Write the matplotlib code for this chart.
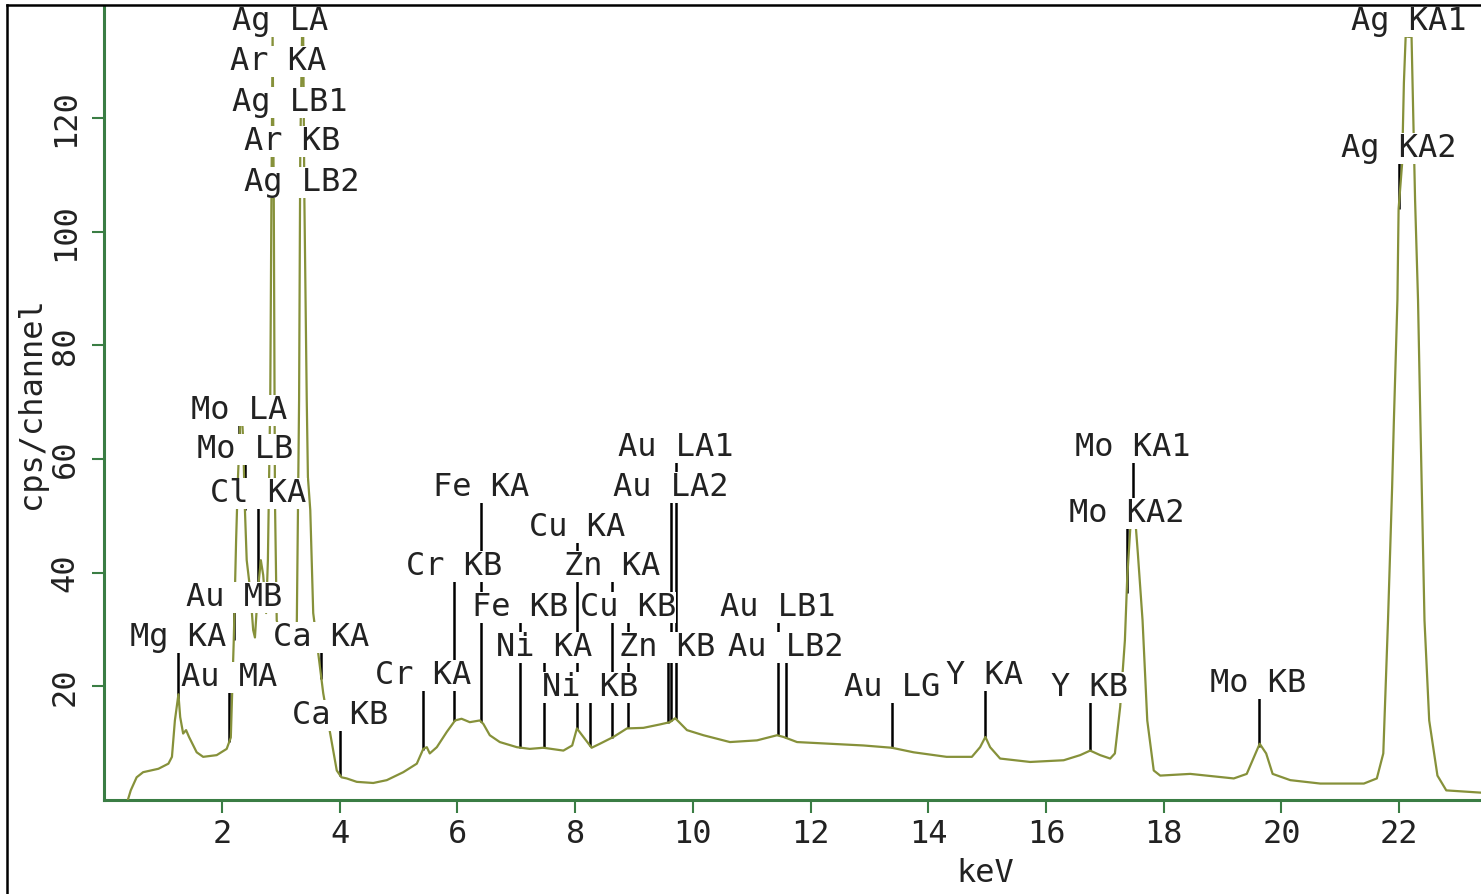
import numpy as np
import matplotlib
matplotlib.use('Agg')
import matplotlib.pyplot as plt
from matplotlib.lines import Line2D

# EDS spectrum trace: energy (keV) and intensity (cps/channel)
energy = [0.40, 0.45, 0.55, 0.66, 0.92, 1.09, 1.15, 1.20, 1.26, 1.29, 1.34, 1.39, 1.44, 1.57, 1.68,
          1.91, 2.08, 2.15, 2.20, 2.24, 2.27, 2.31, 2.33, 2.36, 2.39, 2.42, 2.48, 2.53, 2.56, 2.61,
          2.66, 2.70, 2.75, 2.78, 2.82, 2.84, 2.86, 2.88, 2.90, 2.93, 3.02, 3.19, 3.27, 3.31, 3.33,
          3.36, 3.38, 3.40, 3.44, 3.46, 3.50, 3.55, 3.63, 3.72, 3.83, 3.95, 4.03, 4.12, 4.29, 4.57,
          4.80, 5.08, 5.31, 5.42, 5.48, 5.53, 5.65, 5.82, 5.96, 6.07, 6.21, 6.38, 6.44, 6.55, 6.72,
          7.01, 7.23, 7.46, 7.80, 7.95, 8.03, 8.14, 8.28, 8.42, 8.65, 8.88, 9.16, 9.44, 9.61, 9.70,
          9.90, 10.18, 10.63, 11.09, 11.43, 11.54, 11.77, 12.33, 12.90, 13.38, 13.75, 14.31, 14.74, 14.88, 14.97,
          15.05, 15.22, 15.73, 16.30, 16.58, 16.75, 16.92, 17.09, 17.17, 17.26, 17.34, 17.38, 17.43, 17.46, 17.50,
          17.53, 17.56, 17.64, 17.72, 17.83, 17.94, 18.45, 19.19, 19.41, 19.63, 19.74, 19.85, 20.15, 20.66, 21.40,
          21.62, 21.73, 21.81, 21.88, 21.91, 21.97, 21.99, 22.05, 22.08, 22.11, 22.21, 22.24, 22.27, 22.32, 22.36,
          22.43, 22.51, 22.65, 22.80, 23.39]
counts = [0.0, 1.7, 4.0, 4.9, 5.5, 6.4, 7.6, 14.0, 18.6, 14.6, 11.7, 12.3, 11.1, 8.4, 7.6,
          7.9, 9.0, 11.0, 28.1, 45.7, 56.3, 66.8, 69.5, 63.3, 51.0, 42.2, 36.9, 29.9, 28.6, 36.9,
          42.2, 39.6, 32.9, 42.2, 70.4, 105.6, 134.6, 105.6, 52.8, 31.6, 28.1, 27.2, 29.9, 70.4, 114.4,
          134.3, 134.3, 105.6, 70.4, 56.8, 51.0, 32.9, 26.3, 18.8, 12.2, 5.2, 4.0, 3.8, 3.2, 3.0,
          3.5, 4.9, 6.4, 9.0, 9.3, 8.2, 9.3, 12.0, 14.0, 14.3, 13.7, 14.0, 13.4, 11.4, 10.2,
          9.3, 9.0, 9.2, 8.7, 9.6, 12.6, 11.1, 9.2, 9.9, 11.1, 12.6, 12.7, 13.3, 13.7, 14.4,
          12.3, 11.4, 10.2, 10.5, 11.4, 11.1, 10.2, 9.9, 9.6, 9.2, 8.4, 7.6, 7.6, 9.3, 11.1,
          9.3, 7.3, 6.7, 7.0, 7.9, 8.7, 7.9, 7.3, 8.2, 16.4, 28.1, 39.2, 47.5, 50.6, 51.0,
          47.5, 43.4, 31.6, 14.0, 5.2, 4.3, 4.6, 3.8, 4.6, 9.9, 8.2, 4.6, 3.5, 2.9, 2.9,
          3.8, 8.2, 31.6, 55.0, 66.8, 88.0, 104.0, 112.0, 126.2, 134.3, 134.3, 119.7, 105.6, 88.0, 66.8,
          31.6, 14.0, 4.3, 1.7, 1.3]

# identified lines: element, line, energy (keV), label height (cps/channel)
elements = ['Ag', 'Ar', 'Ag', 'Ar', 'Ag', 'Mo', 'Mo', 'Cl', 'Au', 'Mg', 'Au', 'Ca', 'Ca',
            'Cr', 'Cr', 'Fe', 'Fe', 'Ni', 'Ni', 'Cu', 'Cu', 'Zn', 'Zn', 'Au', 'Au', 'Au', 'Au',
            'Au', 'Y', 'Y', 'Mo', 'Mo', 'Mo', 'Ag', 'Ag']
lines = ['LA', 'KA', 'LB1', 'KB', 'LB2', 'LA', 'LB', 'KA', 'MB', 'KA', 'MA', 'KA', 'KB',
         'KA', 'KB', 'KA', 'KB', 'KA', 'KB', 'KA', 'KB', 'KA', 'KB', 'LA1', 'LA2', 'LB1', 'LB2',
         'LG', 'KA', 'KB', 'KA1', 'KA2', 'KB', 'KA1', 'KA2']
line_energy = [2.98, 2.96, 3.15, 3.19, 3.35, 2.29, 2.39, 2.62, 2.20, 1.25, 2.12, 3.69, 4.01,
               5.41, 5.95, 6.40, 7.06, 7.47, 8.26, 8.04, 8.90, 8.63, 9.57, 9.71, 9.63, 11.44, 11.58,
               13.38, 14.96, 16.74, 17.48, 17.37, 19.61, 22.16, 21.99]
label_height = [136.9, 129.9, 122.8, 115.8, 108.7, 68.6, 61.6, 53.9, 35.7, 28.6, 21.6, 28.6, 14.9,
                21.9, 41.0, 55.0, 33.9, 26.9, 19.8, 48.0, 33.9, 41.0, 26.9, 62.1, 55.0, 33.9, 26.9,
                19.8, 21.9, 19.8, 62.1, 50.5, 20.5, 136.9, 114.7]
# the Ag/Ar L group sits in a stack at the top, drawn without marker lines
no_marker = ['Ag LA', 'Ar KA', 'Ag LB1', 'Ar KB', 'Ag LB2']

x_ticks = [2, 4, 6, 8, 10, 12, 14, 16, 18, 20, 22]
y_ticks = [20, 40, 60, 80, 100, 120]

FONT = 'DejaVu Sans Mono'
FS = 23
AXIS_GREEN = '#3a7d44'
TRACE = '#86913a'
INK = '#222222'

plt.rcParams['font.family'] = FONT

fig = plt.figure(figsize=(14.81, 8.94), dpi=100)
ax = fig.add_axes([0.0704, 0.1051, 0.9296, 0.8882])

# spectrum
ax.plot(energy, counts, color=TRACE, lw=1.6, zorder=3)

# line markers from the trace up to the label, then the labels on a white box
for el, ln, e, h in zip(elements, lines, line_energy, label_height):
    name = f'{el} {ln}'
    if name not in no_marker:
        base = np.interp(e, energy, counts)
        ax.vlines(e, base, h, color='black', lw=1.8, zorder=2)
    ax.text(e, h, name, ha='center', va='center', fontsize=FS, family=FONT, color=INK,
            bbox=dict(facecolor='white', edgecolor='none', pad=0), zorder=5)

ax.set_xlim(0, 23.39)
ax.set_ylim(0, 139.7)
ax.set_xticks(x_ticks)
ax.set_yticks(y_ticks)
ax.set_xticklabels([str(t) for t in x_ticks], fontsize=FS, color=INK)
ax.set_yticklabels([str(t) for t in y_ticks], fontsize=FS, color=INK, rotation=90, va='center')

for side in ['top', 'right']:
    ax.spines[side].set_visible(False)
for side in ['left', 'bottom']:
    ax.spines[side].set_color(AXIS_GREEN)
    ax.spines[side].set_linewidth(2.2)
ax.tick_params(axis='both', direction='out', length=9, width=1.5, color=AXIS_GREEN)
ax.tick_params(axis='x', pad=5)
ax.tick_params(axis='y', pad=8)

ax.set_xlabel('keV', fontsize=FS, color=INK)
ax.xaxis.set_label_coords(0.64, -0.073)
ax.xaxis.label.set_va('top')
ax.set_ylabel('cps/channel', fontsize=FS, color=INK)
ax.yaxis.set_label_coords(-0.0416, 0.5)

# frame lines along the left and top edges of the picture
fig.add_artist(Line2D([0.0047, 0.0047], [0.0, 0.9944], transform=fig.transFigure, color='black', lw=1.8))
fig.add_artist(Line2D([0.0047, 1.0], [0.9944, 0.9944], transform=fig.transFigure, color='black', lw=1.8))

fig.savefig('out.png', dpi=100)
